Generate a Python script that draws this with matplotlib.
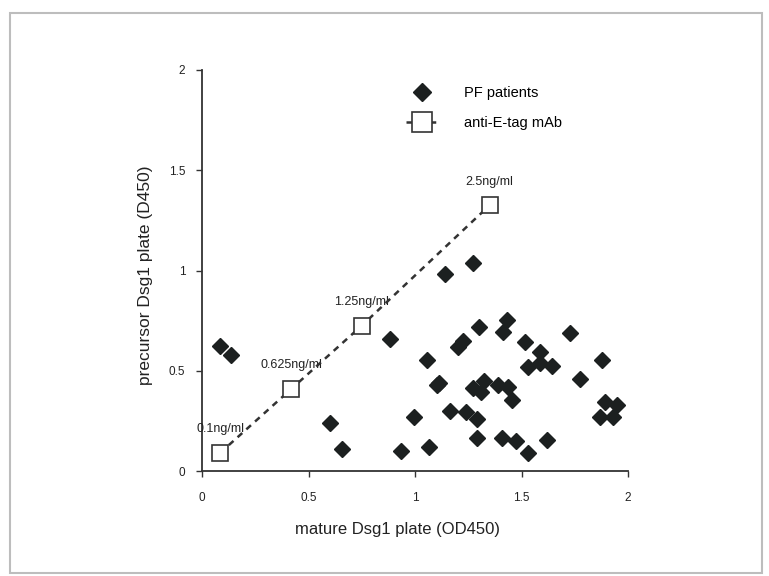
import matplotlib
matplotlib.use('Agg')
from matplotlib import pyplot as plt
from matplotlib.patches import Rectangle

plt.rcParams['font.family'] = ['Liberation Sans', 'DejaVu Sans']

# PF patients (mature vs precursor OD450)
pf_x = [0.085, 0.136, 0.60, 0.657, 0.883, 0.934, 0.995, 1.056, 1.066, 1.103,
        1.113, 1.14, 1.164, 1.20, 1.225, 1.239, 1.272, 1.272, 1.29, 1.29,
        1.30, 1.31, 1.324, 1.39, 1.41, 1.413, 1.432, 1.437, 1.455, 1.474,
        1.516, 1.53, 1.53, 1.587, 1.587, 1.643, 1.62, 1.73, 1.775, 1.878,
        1.89, 1.95, 1.87, 1.93]
pf_y = [0.625, 0.58, 0.24, 0.11, 0.66, 0.10, 0.27, 0.555, 0.12, 0.43,
        0.44, 0.985, 0.30, 0.62, 0.65, 0.295, 1.035, 0.415, 0.26, 0.165,
        0.72, 0.395, 0.45, 0.43, 0.165, 0.695, 0.755, 0.42, 0.355, 0.15,
        0.645, 0.09, 0.52, 0.595, 0.54, 0.525, 0.155, 0.69, 0.46, 0.555,
        0.345, 0.33, 0.27, 0.27]

# anti-E-tag mAb dilution series
mab_x = [0.085, 0.42, 0.75, 1.35]
mab_y = [0.09, 0.41, 0.725, 1.325]
mab_labels = ['0.1ng/ml', '0.625ng/ml', '1.25ng/ml', '2.5ng/ml']

fig = plt.figure(figsize=(7.69, 5.76), dpi=100)
ax = fig.add_axes([202 / 769, 1 - 471 / 576, 426 / 769, 401 / 576])

ax.plot(pf_x, pf_y, 'D', color='#1c2020', markersize=7.8, linestyle='none',
        label='PF patients', zorder=3)
ax.plot(mab_x, mab_y, 's', linestyle=(0, (2.5, 2.2)), color='#333333', linewidth=1.8,
        markersize=12, markerfacecolor='white', markeredgecolor='#333333',
        markeredgewidth=1.2, label='anti-E-tag mAb', zorder=4)

for x, y, lab in zip(mab_x, mab_y, mab_labels):
    ax.annotate(lab, (x, y), xytext=(0, 17), textcoords='offset points',
                ha='center', va='center', fontsize=9, color='#222222')

ax.set_xlim(0, 2)
ax.set_ylim(0, 2)
ax.set_xticks([0, 0.5, 1, 1.5, 2])
ax.set_xticklabels(['0', '0.5', '1', '1.5', '2'])
ax.set_yticks([0, 0.5, 1, 1.5, 2])
ax.set_yticklabels(['0', '0.5', '1', '1.5', '2'])
ax.spines['top'].set_visible(False)
ax.spines['right'].set_visible(False)
for s in ['left', 'bottom']:
    ax.spines[s].set_color('#333333')
    ax.spines[s].set_linewidth(1.3)
ax.tick_params(axis='both', length=4, width=1, color='#333333',
               labelsize=8.5, labelcolor='#222222', pad=8)
ax.tick_params(axis='x', pad=11)

ax.set_xlabel('mature Dsg1 plate (OD450)', fontsize=12, color='#222222')
ax.set_ylabel('precursor Dsg1 plate (D450)', fontsize=12.5, color='#222222')
ax.xaxis.set_label_coords(0.46, -0.127)
ax.yaxis.set_label_coords(-0.115, 0.489)

ax.legend(loc='upper left', bbox_to_anchor=(406 / 769, 1 - 86 / 576),
          bbox_transform=fig.transFigure, frameon=False, fontsize=10.5,
          handlelength=2.2, handletextpad=1.8, labelspacing=1.1,
          markerscale=1.15, borderaxespad=0, borderpad=0)

# thin gray frame around the whole picture
fig.patches.append(Rectangle((10 / 769, 1 - 573 / 576), 752 / 769, 560 / 576,
                             transform=fig.transFigure, fill=False,
                             edgecolor='#bdbdbd', linewidth=1.5))

fig.savefig('out.png', dpi=100)
